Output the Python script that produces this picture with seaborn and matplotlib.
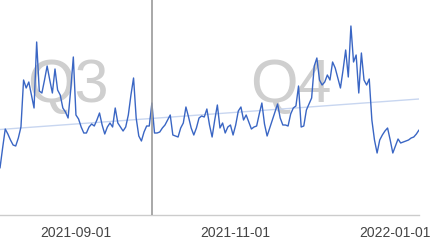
import numpy as np
import pandas as pd
import matplotlib
matplotlib.use("Agg")
import matplotlib.pyplot as plt
import matplotlib.dates as mdates
import seaborn as sns

start_date = "2021-08-03"
end_date = "2022-01-10"
quarter_boundary = "2021-09-30"
tick_dates = ["2021-09-01", "2021-11-01", "2022-01-01"]
quarter_labels = ["Q3", "Q4"]
quarter_label_dates = ["2021-08-29", "2021-11-22"]

# daily values (arbitrary units)
values = [
    47, 67, 86, 81, 75, 70, 69, 77, 88, 135, 127, 133, 120, 107, 173, 124, 122, 135, 149, 135,
    122, 146, 125, 120, 107, 103, 97, 125, 158, 100, 96, 88, 82, 82, 88, 91, 89, 95, 102, 90,
    81, 88, 92, 88, 107, 92, 88, 84, 88, 100, 120, 137, 97, 79, 74, 83, 89, 89, 112, 82,
    82, 83, 87, 90, 95, 100, 80, 79, 78, 87, 92, 108, 98, 87, 80, 87, 97, 99, 98, 106,
    90, 78, 95, 110, 87, 92, 82, 88, 90, 80, 90, 104, 108, 95, 100, 93, 86, 88, 89, 101,
    112, 91, 79, 87, 95, 103, 111, 97, 90, 90, 89, 101, 107, 109, 129, 88, 89, 105, 111, 117,
    149, 157, 135, 130, 133, 140, 135, 153, 147, 137, 127, 145, 165, 138, 189, 153, 160, 122, 162, 135,
    130, 136, 95, 75, 62, 75, 80, 84, 87, 75, 62, 69, 76, 72, 73, 74, 75, 77, 78, 81,
    85,
]

# trend line values at the first and last date
trend_dates = [start_date, end_date]
trend_values = [85.5, 116.0]

dates = pd.date_range(start_date, end_date, freq="D")
df = pd.DataFrame({"date": dates[: len(values)], "value": values})
trend_df = pd.DataFrame({"date": pd.to_datetime(trend_dates), "value": trend_values})

sns.set_style("white")
plt.rcParams["font.family"] = ["Liberation Sans", "DejaVu Sans"]

fig = plt.figure(figsize=(4.3, 2.43), dpi=100)
ax = fig.add_axes([0.0, 28 / 243, 419 / 430, 215 / 243])

for lab, d in zip(quarter_labels, quarter_label_dates):
    ax.text(pd.Timestamp(d), 113, lab, fontsize=44, color="#cfcfcf",
            ha="center", va="baseline", zorder=1)

sns.lineplot(data=trend_df, x="date", y="value", ax=ax, color="#c8d6f0", lw=1.0, zorder=2)
sns.lineplot(data=df, x="date", y="value", ax=ax, color="#3a66c4", lw=1.0, zorder=3)

ax.axvline(pd.Timestamp(quarter_boundary), color="#999999", lw=1.2, zorder=4)

ax.set_xlim(pd.Timestamp(start_date), pd.Timestamp(end_date))
ax.set_ylim(0, 215)
ax.set_xticks([pd.Timestamp(t) for t in tick_dates])
ax.xaxis.set_major_formatter(mdates.DateFormatter("%Y-%m-%d"))
ax.tick_params(axis="x", length=0, pad=8, labelsize=10, labelcolor="#444444")
ax.set_yticks([])
ax.set_xlabel("")
ax.set_ylabel("")
for s in ["top", "left", "right"]:
    ax.spines[s].set_visible(False)
ax.spines["bottom"].set_color("#cccccc")
ax.spines["bottom"].set_linewidth(1.0)
ax.patch.set_alpha(0)

fig.savefig("out.png", dpi=100)
